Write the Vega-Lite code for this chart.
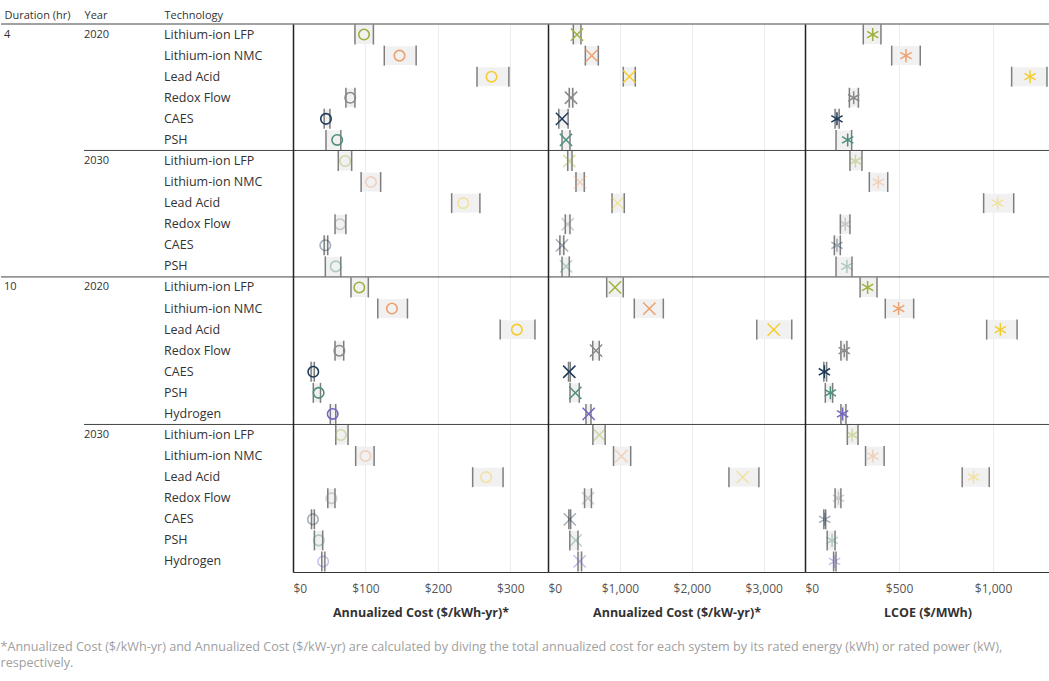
{
  "$schema": "https://vega.github.io/schema/vega-lite/v6.json",
  "background": "white",
  "padding": {"left": 0, "top": 9, "right": 0, "bottom": 5},
  "spacing": 0,
  "bounds": "flush",
  "config": {
    "view": {"stroke": null},
    "font": "Open Sans",
    "axisBottom": {"labelFontSize": 12, "labelColor": "#555555", "titleFontSize": 12.5, "titleFontWeight": "bold", "titleColor": "#333333", "domainColor": "#333333", "domainWidth": 1, "ticks": false, "labelPadding": 11, "titlePadding": 12, "gridColor": "#ececec", "gridWidth": 1}
  },
  "title": {
    "text": ["*Annualized Cost ($/kWh-yr) and Annualized Cost ($/kW-yr) are calculated by diving the total annualized cost for each system by its rated energy (kWh) or rated power (kW),", "respectively."],
    "orient": "bottom", "anchor": "start", "fontSize": 12.6, "fontWeight": "normal", "color": "#a0a0a0", "lineHeight": 16, "offset": 22, "font": "Open Sans"
  },
  "datasets": {
    "rows": [
      {"row": "4 2020 Lithium-ion LFP", "dur": "4", "year": 2020, "tech": "Lithium-ion LFP", "a_lo": 85.5, "a_mid": 98, "a_hi": 111, "b_lo": 352, "b_mid": 403, "b_hi": 459, "c_lo": 310, "c_mid": 360, "c_hi": 404},
      {"row": "4 2020 Lithium-ion NMC", "dur": "4", "year": 2020, "tech": "Lithium-ion NMC", "a_lo": 126, "a_mid": 147, "a_hi": 170, "b_lo": 519, "b_mid": 608, "b_hi": 700, "c_lo": 461, "c_mid": 537, "c_hi": 613},
      {"row": "4 2020 Lead Acid", "dur": "4", "year": 2020, "tech": "Lead Acid", "a_lo": 254, "a_mid": 274, "a_hi": 298, "b_lo": 1047, "b_mid": 1131, "b_hi": 1214, "c_lo": 1099, "c_mid": 1197, "c_hi": 1287},
      {"row": "4 2020 Redox Flow", "dur": "4", "year": 2020, "tech": "Redox Flow", "a_lo": 73, "a_mid": 79, "a_hi": 85.5, "b_lo": 295, "b_mid": 320, "b_hi": 345, "c_lo": 236, "c_mid": 259, "c_hi": 284},
      {"row": "4 2020 CAES", "dur": "4", "year": 2020, "tech": "CAES", "a_lo": 43, "a_mid": 45.5, "a_hi": 51, "b_lo": 150, "b_mid": 195, "b_hi": 280, "c_lo": 160, "c_mid": 170, "c_hi": 182},
      {"row": "4 2020 PSH", "dur": "4", "year": 2020, "tech": "PSH", "a_lo": 45.5, "a_mid": 61, "a_hi": 66, "b_lo": 195, "b_mid": 250, "b_hi": 306, "c_lo": 165, "c_mid": 227, "c_hi": 248},
      {"row": "4 2030 Lithium-ion LFP", "dur": "4", "year": 2030, "tech": "Lithium-ion LFP", "a_lo": 62.5, "a_mid": 72, "a_hi": 81, "b_lo": 274, "b_mid": 296, "b_hi": 334, "c_lo": 239, "c_mid": 268, "c_hi": 303},
      {"row": "4 2030 Lithium-ion NMC", "dur": "4", "year": 2030, "tech": "Lithium-ion NMC", "a_lo": 94, "a_mid": 107.6, "a_hi": 121, "b_lo": 389, "b_mid": 445, "b_hi": 505, "c_lo": 342, "c_mid": 390, "c_hi": 440},
      {"row": "4 2030 Lead Acid", "dur": "4", "year": 2030, "tech": "Lead Acid", "a_lo": 219, "a_mid": 235, "a_hi": 258, "b_lo": 890, "b_mid": 969, "b_hi": 1061, "c_lo": 950, "c_mid": 1025, "c_hi": 1110},
      {"row": "4 2030 Redox Flow", "dur": "4", "year": 2030, "tech": "Redox Flow", "a_lo": 58, "a_mid": 65, "a_hi": 73, "b_lo": 240, "b_mid": 274, "b_hi": 306, "c_lo": 188, "c_mid": 214, "c_hi": 239},
      {"row": "4 2030 CAES", "dur": "4", "year": 2030, "tech": "CAES", "a_lo": 43, "a_mid": 44.6, "a_hi": 48, "b_lo": 165, "b_mid": 195, "b_hi": 220, "c_lo": 156, "c_mid": 170, "c_hi": 188},
      {"row": "4 2030 PSH", "dur": "4", "year": 2030, "tech": "PSH", "a_lo": 44.6, "a_mid": 59, "a_hi": 66, "b_lo": 195, "b_mid": 250, "b_hi": 296, "c_lo": 165, "c_mid": 223, "c_hi": 250},
      {"row": "10 2020 Lithium-ion LFP", "dur": "10", "year": 2020, "tech": "Lithium-ion LFP", "a_lo": 80, "a_mid": 91.5, "a_hi": 104, "b_lo": 816, "b_mid": 932, "b_hi": 1047, "c_lo": 293, "c_mid": 333, "c_hi": 383},
      {"row": "10 2020 Lithium-ion NMC", "dur": "10", "year": 2020, "tech": "Lithium-ion NMC", "a_lo": 117, "a_mid": 136.6, "a_hi": 158, "b_lo": 1200, "b_mid": 1409, "b_hi": 1604, "c_lo": 427, "c_mid": 498, "c_hi": 578},
      {"row": "10 2020 Lead Acid", "dur": "10", "year": 2020, "tech": "Lead Acid", "a_lo": 286, "a_mid": 309, "a_hi": 334, "b_lo": 2903, "b_mid": 3139, "b_hi": 3390, "c_lo": 966, "c_mid": 1039, "c_hi": 1128},
      {"row": "10 2020 Redox Flow", "dur": "10", "year": 2020, "tech": "Redox Flow", "a_lo": 58, "a_mid": 64, "a_hi": 70, "b_lo": 622, "b_mid": 668, "b_hi": 713, "c_lo": 191, "c_mid": 209, "c_hi": 223},
      {"row": "10 2020 CAES", "dur": "10", "year": 2020, "tech": "CAES", "a_lo": 25, "a_mid": 28, "a_hi": 29.4, "b_lo": 285, "b_mid": 296, "b_hi": 310, "c_lo": 100, "c_mid": 103, "c_hi": 115},
      {"row": "10 2020 PSH", "dur": "10", "year": 2020, "tech": "PSH", "a_lo": 28, "a_mid": 35.4, "a_hi": 38, "b_lo": 306, "b_mid": 380, "b_hi": 435, "c_lo": 108, "c_mid": 135, "c_hi": 147},
      {"row": "10 2020 Hydrogen", "dur": "10", "year": 2020, "tech": "Hydrogen", "a_lo": 51.5, "a_mid": 54.8, "a_hi": 59, "b_lo": 528, "b_mid": 566, "b_hi": 598, "c_lo": 191, "c_mid": 200, "c_hi": 218},
      {"row": "10 2030 Lithium-ion LFP", "dur": "10", "year": 2030, "tech": "Lithium-ion LFP", "a_lo": 59, "a_mid": 66, "a_hi": 76, "b_lo": 624, "b_mid": 713, "b_hi": 795, "c_lo": 225, "c_mid": 251, "c_hi": 282},
      {"row": "10 2030 Lithium-ion NMC", "dur": "10", "year": 2030, "tech": "Lithium-ion NMC", "a_lo": 86.5, "a_mid": 100, "a_hi": 112, "b_lo": 911, "b_mid": 1021, "b_hi": 1150, "c_lo": 322, "c_mid": 361, "c_hi": 421},
      {"row": "10 2030 Lead Acid", "dur": "10", "year": 2030, "tech": "Lead Acid", "a_lo": 248, "a_mid": 266.6, "a_hi": 290, "b_lo": 2516, "b_mid": 2708, "b_hi": 2933, "c_lo": 836, "c_mid": 896, "c_hi": 980},
      {"row": "10 2030 Redox Flow", "dur": "10", "year": 2030, "tech": "Redox Flow", "a_lo": 48, "a_mid": 53, "a_hi": 58, "b_lo": 508, "b_mid": 556, "b_hi": 604, "c_lo": 160, "c_mid": 178, "c_hi": 191},
      {"row": "10 2030 CAES", "dur": "10", "year": 2030, "tech": "CAES", "a_lo": 25.5, "a_mid": 27.5, "a_hi": 29.5, "b_lo": 290, "b_mid": 303, "b_hi": 315, "c_lo": 100, "c_mid": 105, "c_hi": 110},
      {"row": "10 2030 PSH", "dur": "10", "year": 2030, "tech": "PSH", "a_lo": 29.5, "a_mid": 35.6, "a_hi": 41, "b_lo": 303, "b_mid": 385, "b_hi": 417, "c_lo": 118, "c_mid": 144, "c_hi": 160},
      {"row": "10 2030 Hydrogen", "dur": "10", "year": 2030, "tech": "Hydrogen", "a_lo": 39.7, "a_mid": 41.7, "a_hi": 44, "b_lo": 417, "b_mid": 440, "b_hi": 467, "c_lo": 152, "c_mid": 157, "c_hi": 165}
    ]
  },
  "hconcat": [
    {
      "width": 292, "height": 548,
      "data": {"name": "rows"},
      "encoding": {"y": {"field": "row", "type": "nominal", "scale": {"domain": ["4 2020 Lithium-ion LFP","4 2020 Lithium-ion NMC","4 2020 Lead Acid","4 2020 Redox Flow","4 2020 CAES","4 2020 PSH","4 2030 Lithium-ion LFP","4 2030 Lithium-ion NMC","4 2030 Lead Acid","4 2030 Redox Flow","4 2030 CAES","4 2030 PSH","10 2020 Lithium-ion LFP","10 2020 Lithium-ion NMC","10 2020 Lead Acid","10 2020 Redox Flow","10 2020 CAES","10 2020 PSH","10 2020 Hydrogen","10 2030 Lithium-ion LFP","10 2030 Lithium-ion NMC","10 2030 Lead Acid","10 2030 Redox Flow","10 2030 CAES","10 2030 PSH","10 2030 Hydrogen"], "paddingInner": 0, "paddingOuter": 0}, "axis": null}},
      "layer": [
        {
          "mark": {"type": "text", "align": "left", "fontSize": 12.5, "color": "#333333"},
          "encoding": {
            "x": {"datum": "Technology", "type": "nominal", "scale": {"type": "point", "domain": ["Duration (hr)", "Year", "Technology"], "range": [3, 163], "padding": 0}, "axis": {"orient": "top", "title": null, "labelAlign": "left", "ticks": false, "domain": false, "grid": false, "labelFontSize": 11, "labelColor": "#333333", "labelPadding": 4, "labelAngle": 0}},
            "text": {"field": "tech"}
          }
        },
        {
          "transform": [{"filter": "datum.tech === 'Lithium-ion LFP'"}],
          "mark": {"type": "text", "align": "left", "fontSize": 11, "color": "#333333"},
          "encoding": {"x": {"datum": "Year", "type": "nominal"}, "text": {"field": "year"}}
        },
        {
          "transform": [{"filter": "datum.tech === 'Lithium-ion LFP' && datum.year === 2020"}],
          "mark": {"type": "text", "align": "left", "fontSize": 11, "color": "#333333"},
          "encoding": {"x": {"datum": "Duration (hr)", "type": "nominal"}, "text": {"field": "dur"}}
        },
        {
          "transform": [{"filter": "datum.tech === 'Lithium-ion LFP' && datum.year === 2020"}],
          "mark": {"type": "rule", "color": "#444444", "strokeWidth": 1},
          "encoding": {"y": {"field": "row", "type": "nominal", "bandPosition": 0, "axis": null}}
        },
        {
          "transform": [{"filter": "datum.tech === 'Lithium-ion LFP' && datum.year === 2030"}],
          "mark": {"type": "rule", "color": "#444444", "strokeWidth": 1},
          "encoding": {"y": {"field": "row", "type": "nominal", "bandPosition": 0, "axis": null}, "x": {"datum": "Year", "type": "nominal"}, "x2": {"value": "width"}}
        }
      ]
    },
    {
      "width": 255, "height": 548,
      "data": {"name": "rows"},
      "encoding": {"y": {"field": "row", "type": "nominal", "scale": {"domain": ["4 2020 Lithium-ion LFP","4 2020 Lithium-ion NMC","4 2020 Lead Acid","4 2020 Redox Flow","4 2020 CAES","4 2020 PSH","4 2030 Lithium-ion LFP","4 2030 Lithium-ion NMC","4 2030 Lead Acid","4 2030 Redox Flow","4 2030 CAES","4 2030 PSH","10 2020 Lithium-ion LFP","10 2020 Lithium-ion NMC","10 2020 Lead Acid","10 2020 Redox Flow","10 2020 CAES","10 2020 PSH","10 2020 Hydrogen","10 2030 Lithium-ion LFP","10 2030 Lithium-ion NMC","10 2030 Lead Acid","10 2030 Redox Flow","10 2030 CAES","10 2030 PSH","10 2030 Hydrogen"], "paddingInner": 0, "paddingOuter": 0}, "axis": {"labels": false, "ticks": false, "title": null, "grid": false, "domainColor": "#222222", "domainWidth": 1.5}}},
      "layer": [
        {
          "mark": {"type": "rect", "color": "#f1f1f1", "height": {"band": 0.9}},
          "encoding": {
            "x": {"field": "a_lo", "type": "quantitative", "scale": {"domain": [0, 352], "nice": false, "zero": false}, "axis": {"values": [0, 100, 200, 300], "format": "$,.0f", "title": "Annualized Cost ($/kWh-yr)*", "grid": true}},
            "x2": {"field": "a_hi"}
          }
        },
        {
          "mark": {"type": "tick", "color": "#4a4a4a", "thickness": 1.5, "size": 20},
          "encoding": {"x": {"field": "a_lo", "type": "quantitative", "axis": {"values": [0, 100, 200, 300], "format": "$,.0f", "title": "Annualized Cost ($/kWh-yr)*", "grid": true}}}
        },
        {
          "mark": {"type": "tick", "color": "#4a4a4a", "thickness": 1.5, "size": 20},
          "encoding": {"x": {"field": "a_hi", "type": "quantitative", "axis": {"values": [0, 100, 200, 300], "format": "$,.0f", "title": "Annualized Cost ($/kWh-yr)*", "grid": true}}}
        },
        {
          "mark": {"type": "point", "shape": "circle", "filled": false, "size": 110, "strokeWidth": 1.6},
          "encoding": {
            "x": {"field": "a_mid", "type": "quantitative", "axis": {"values": [0, 100, 200, 300], "format": "$,.0f", "title": "Annualized Cost ($/kWh-yr)*", "grid": true}},
            "color": {"field": "tech", "type": "nominal", "scale": {"domain": ["Lithium-ion LFP", "Lithium-ion NMC", "Lead Acid", "Redox Flow", "CAES", "PSH", "Hydrogen"], "range": ["#9db23e", "#eda16f", "#f3cd2f", "#8a8a8a", "#1f3b5a", "#4e8e7e", "#7366c2"]}, "legend": null},
            "opacity": {"condition": {"test": "datum.year === 2030", "value": 0.4}, "value": 1}
          }
        },
        {
          "transform": [{"filter": "datum.tech === 'Lithium-ion LFP'"}],
          "mark": {"type": "rule", "color": "#444444", "strokeWidth": 1},
          "encoding": {"y": {"field": "row", "type": "nominal", "bandPosition": 0, "axis": {"labels": false, "ticks": false, "title": null, "grid": false, "domainColor": "#222222", "domainWidth": 1.5}}}
        }
      ]
    },
    {
      "width": 257, "height": 548,
      "data": {"name": "rows"},
      "encoding": {"y": {"field": "row", "type": "nominal", "scale": {"domain": ["4 2020 Lithium-ion LFP","4 2020 Lithium-ion NMC","4 2020 Lead Acid","4 2020 Redox Flow","4 2020 CAES","4 2020 PSH","4 2030 Lithium-ion LFP","4 2030 Lithium-ion NMC","4 2030 Lead Acid","4 2030 Redox Flow","4 2030 CAES","4 2030 PSH","10 2020 Lithium-ion LFP","10 2020 Lithium-ion NMC","10 2020 Lead Acid","10 2020 Redox Flow","10 2020 CAES","10 2020 PSH","10 2020 Hydrogen","10 2030 Lithium-ion LFP","10 2030 Lithium-ion NMC","10 2030 Lead Acid","10 2030 Redox Flow","10 2030 CAES","10 2030 PSH","10 2030 Hydrogen"], "paddingInner": 0, "paddingOuter": 0}, "axis": {"labels": false, "ticks": false, "title": null, "grid": false, "domainColor": "#222222", "domainWidth": 1.5}}},
      "layer": [
        {
          "mark": {"type": "rect", "color": "#f1f1f1", "height": {"band": 0.9}},
          "encoding": {
            "x": {"field": "b_lo", "type": "quantitative", "scale": {"domain": [0, 3574], "nice": false, "zero": false}, "axis": {"values": [0, 1000, 2000, 3000], "format": "$,.0f", "title": "Annualized Cost ($/kW-yr)*", "grid": true}},
            "x2": {"field": "b_hi"}
          }
        },
        {
          "mark": {"type": "tick", "color": "#4a4a4a", "thickness": 1.5, "size": 20},
          "encoding": {"x": {"field": "b_lo", "type": "quantitative", "axis": {"values": [0, 1000, 2000, 3000], "format": "$,.0f", "title": "Annualized Cost ($/kW-yr)*", "grid": true}}}
        },
        {
          "mark": {"type": "tick", "color": "#4a4a4a", "thickness": 1.5, "size": 20},
          "encoding": {"x": {"field": "b_hi", "type": "quantitative", "axis": {"values": [0, 1000, 2000, 3000], "format": "$,.0f", "title": "Annualized Cost ($/kW-yr)*", "grid": true}}}
        },
        {
          "mark": {"type": "point", "shape": "M-1,-1L1,1M-1,1L1,-1", "filled": false, "size": 150, "strokeWidth": 1.5},
          "encoding": {
            "x": {"field": "b_mid", "type": "quantitative", "axis": {"values": [0, 1000, 2000, 3000], "format": "$,.0f", "title": "Annualized Cost ($/kW-yr)*", "grid": true}},
            "color": {"field": "tech", "type": "nominal", "scale": {"domain": ["Lithium-ion LFP", "Lithium-ion NMC", "Lead Acid", "Redox Flow", "CAES", "PSH", "Hydrogen"], "range": ["#9db23e", "#eda16f", "#f3cd2f", "#8a8a8a", "#1f3b5a", "#4e8e7e", "#7366c2"]}, "legend": null},
            "opacity": {"condition": {"test": "datum.year === 2030", "value": 0.4}, "value": 1}
          }
        },
        {
          "transform": [{"filter": "datum.tech === 'Lithium-ion LFP'"}],
          "mark": {"type": "rule", "color": "#444444", "strokeWidth": 1},
          "encoding": {"y": {"field": "row", "type": "nominal", "bandPosition": 0, "axis": {"labels": false, "ticks": false, "title": null, "grid": false, "domainColor": "#222222", "domainWidth": 1.5}}}
        }
      ]
    },
    {
      "width": 245, "height": 548,
      "data": {"name": "rows"},
      "encoding": {"y": {"field": "row", "type": "nominal", "scale": {"domain": ["4 2020 Lithium-ion LFP","4 2020 Lithium-ion NMC","4 2020 Lead Acid","4 2020 Redox Flow","4 2020 CAES","4 2020 PSH","4 2030 Lithium-ion LFP","4 2030 Lithium-ion NMC","4 2030 Lead Acid","4 2030 Redox Flow","4 2030 CAES","4 2030 PSH","10 2020 Lithium-ion LFP","10 2020 Lithium-ion NMC","10 2020 Lead Acid","10 2020 Redox Flow","10 2020 CAES","10 2020 PSH","10 2020 Hydrogen","10 2030 Lithium-ion LFP","10 2030 Lithium-ion NMC","10 2030 Lead Acid","10 2030 Redox Flow","10 2030 CAES","10 2030 PSH","10 2030 Hydrogen"], "paddingInner": 0, "paddingOuter": 0}, "axis": {"labels": false, "ticks": false, "title": null, "grid": false, "domainColor": "#222222", "domainWidth": 1.5}}},
      "layer": [
        {
          "mark": {"type": "rect", "color": "#f1f1f1", "height": {"band": 0.9}},
          "encoding": {
            "x": {"field": "c_lo", "type": "quantitative", "scale": {"domain": [0, 1303], "nice": false, "zero": false}, "axis": {"values": [0, 500, 1000], "format": "$,.0f", "title": "LCOE ($/MWh)", "grid": true}},
            "x2": {"field": "c_hi"}
          }
        },
        {
          "mark": {"type": "tick", "color": "#4a4a4a", "thickness": 1.5, "size": 20},
          "encoding": {"x": {"field": "c_lo", "type": "quantitative", "axis": {"values": [0, 500, 1000], "format": "$,.0f", "title": "LCOE ($/MWh)", "grid": true}}}
        },
        {
          "mark": {"type": "tick", "color": "#4a4a4a", "thickness": 1.5, "size": 20},
          "encoding": {"x": {"field": "c_hi", "type": "quantitative", "axis": {"values": [0, 500, 1000], "format": "$,.0f", "title": "LCOE ($/MWh)", "grid": true}}}
        },
        {
          "mark": {"type": "point", "shape": "M0,-1L0,1M-0.866,-0.5L0.866,0.5M-0.866,0.5L0.866,-0.5", "filled": false, "size": 170, "strokeWidth": 1.5},
          "encoding": {
            "x": {"field": "c_mid", "type": "quantitative", "axis": {"values": [0, 500, 1000], "format": "$,.0f", "title": "LCOE ($/MWh)", "grid": true}},
            "color": {"field": "tech", "type": "nominal", "scale": {"domain": ["Lithium-ion LFP", "Lithium-ion NMC", "Lead Acid", "Redox Flow", "CAES", "PSH", "Hydrogen"], "range": ["#9db23e", "#eda16f", "#f3cd2f", "#8a8a8a", "#1f3b5a", "#4e8e7e", "#7366c2"]}, "legend": null},
            "opacity": {"condition": {"test": "datum.year === 2030", "value": 0.4}, "value": 1}
          }
        },
        {
          "transform": [{"filter": "datum.tech === 'Lithium-ion LFP'"}],
          "mark": {"type": "rule", "color": "#444444", "strokeWidth": 1},
          "encoding": {"y": {"field": "row", "type": "nominal", "bandPosition": 0, "axis": {"labels": false, "ticks": false, "title": null, "grid": false, "domainColor": "#222222", "domainWidth": 1.5}}}
        }
      ]
    }
  ]
}
